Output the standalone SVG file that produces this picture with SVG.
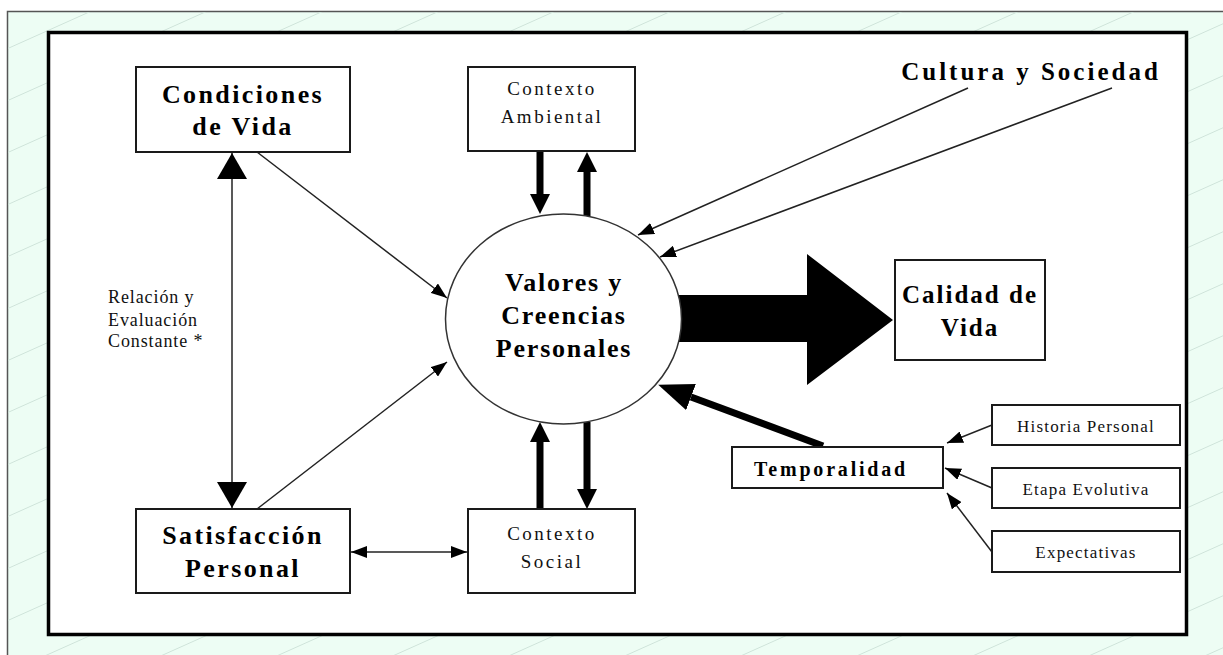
<svg xmlns="http://www.w3.org/2000/svg" width="1223" height="655" viewBox="0 0 1223 655">
  <style>
    .box { fill: #ffffff; stroke: #1a1a1a; stroke-width: 2; }
    .title { font-family: "Liberation Serif", "Times New Roman", serif; font-weight: bold; font-size: 26px; letter-spacing: 2.4px; fill: #000; text-anchor: middle; }
    .plain { font-family: "Liberation Serif", "Times New Roman", serif; font-size: 19px; letter-spacing: 2.5px; fill: #111; text-anchor: middle; }
    .small { font-family: "Liberation Serif", "Times New Roman", serif; font-size: 17px; letter-spacing: 1.2px; fill: #111; text-anchor: middle; }
    .note { font-family: "Liberation Serif", "Times New Roman", serif; font-size: 18px; letter-spacing: 0.9px; fill: #111; }
    .thin { fill: none; stroke: #222; stroke-width: 1.5; }
    .thick { fill: none; stroke: #000; stroke-width: 7; }
  </style>
  <defs>
    <pattern id="diag" patternUnits="userSpaceOnUse" width="116" height="52">
      <line x1="0" y1="52" x2="116" y2="0" stroke="#cfe3da" stroke-width="1"/>
    </pattern>
    <marker id="tip" markerUnits="userSpaceOnUse" markerWidth="16" markerHeight="12" refX="16" refY="6" orient="auto-start-reverse">
      <path d="M0,0 L16,6 L0,12 z" fill="#000"/>
    </marker>
    <marker id="tipBig" markerUnits="userSpaceOnUse" markerWidth="26" markerHeight="30" refX="26" refY="15" orient="auto-start-reverse">
      <path d="M0,0 L26,15 L0,30 z" fill="#000"/>
    </marker>
    <marker id="tipBlock" markerUnits="userSpaceOnUse" markerWidth="20" markerHeight="20" refX="0" refY="10" orient="auto">
      <path d="M0,0 L20,10 L0,20 z" fill="#000"/>
    </marker>
    <marker id="tipHeavy" markerUnits="userSpaceOnUse" markerWidth="35" markerHeight="28" refX="0" refY="14" orient="auto">
      <path d="M0,0 L35,14 L0,28 z" fill="#000"/>
    </marker>
  </defs>

  <!-- page background and frames -->
  <rect x="0" y="0" width="1223" height="655" fill="#ffffff"/>
  <rect x="7.5" y="11.5" width="1230" height="660" fill="#edfdf4" stroke="#555" stroke-width="1.5"/>
  <rect x="8" y="12" width="1215" height="643" fill="url(#diag)"/>
  <rect x="48.5" y="32.5" width="1138" height="602" fill="#ffffff" stroke="#000" stroke-width="3.5"/>

  <!-- connectors -->
  <g id="connectors">
    <!-- wide arrow towards Calidad de Vida -->
    <polygon points="670,295 807,295 807,254 893,320 807,385 807,342 670,342" fill="#000"/>
    <!-- Condiciones de Vida <-> Satisfaccion Personal -->
    <line class="thin" x1="232" y1="153" x2="232" y2="508" stroke-width="2" marker-start="url(#tipBig)" marker-end="url(#tipBig)"/>
    <!-- Condiciones de Vida -> valores -->
    <line class="thin" x1="257" y1="152" x2="447" y2="298" marker-end="url(#tip)"/>
    <!-- Satisfaccion Personal -> valores -->
    <line class="thin" x1="257" y1="509" x2="447" y2="362" marker-end="url(#tip)"/>
    <!-- Satisfaccion Personal <-> Contexto Social -->
    <line class="thin" x1="351" y1="552" x2="467" y2="552" marker-start="url(#tip)" marker-end="url(#tip)"/>
    <!-- Contexto Ambiental <-> valores -->
    <line class="thick" x1="540" y1="152" x2="540" y2="194" marker-end="url(#tipBlock)"/>
    <line class="thick" x1="587" y1="216" x2="587" y2="172" marker-end="url(#tipBlock)"/>
    <!-- Contexto Social <-> valores -->
    <line class="thick" x1="540" y1="508" x2="540" y2="442" marker-end="url(#tipBlock)"/>
    <line class="thick" x1="587" y1="422" x2="587" y2="489" marker-end="url(#tipBlock)"/>
    <!-- Cultura y Sociedad -> valores -->
    <line class="thin" x1="968" y1="88" x2="638" y2="235" marker-end="url(#tip)"/>
    <line class="thin" x1="1112" y1="88" x2="660" y2="257" marker-end="url(#tip)"/>
    <!-- Temporalidad -> valores -->
    <line class="thick" x1="823" y1="446" x2="691" y2="397" marker-end="url(#tipHeavy)"/>
    <!-- factors -> Temporalidad -->
    <line class="thin" x1="992" y1="425" x2="947" y2="443" marker-end="url(#tip)"/>
    <line class="thin" x1="992" y1="488" x2="945" y2="468" marker-end="url(#tip)"/>
    <line class="thin" x1="992" y1="552" x2="947" y2="493" marker-end="url(#tip)"/>
  </g>

  <g id="condiciones-vida">
    <rect class="box" x="136" y="67" width="214" height="85"/>
    <text class="title" x="243" y="103">Condiciones</text>
    <text class="title" x="243" y="135">de Vida</text>
  </g>

  <g id="contexto-ambiental">
    <rect class="box" x="468" y="67" width="167" height="84"/>
    <text class="plain" x="552" y="95">Contexto</text>
    <text class="plain" x="552" y="123">Ambiental</text>
  </g>

  <g id="cultura-sociedad">
    <text class="title" x="1031" y="80" style="font-size:25px;letter-spacing:3px">Cultura y Sociedad</text>
  </g>

  <g id="valores-creencias">
    <ellipse cx="563.5" cy="319" rx="118" ry="105" fill="#ffffff" stroke="#333" stroke-width="1.5"/>
    <text class="title" x="564" y="291" style="letter-spacing:1.8px">Valores y</text>
    <text class="title" x="564" y="324" style="letter-spacing:1.8px">Creencias</text>
    <text class="title" x="564" y="357" style="letter-spacing:1.8px">Personales</text>
  </g>

  <g id="calidad-vida">
    <rect class="box" x="895" y="260" width="150" height="100"/>
    <text class="title" x="970" y="303" style="font-size:25px;letter-spacing:2px">Calidad de</text>
    <text class="title" x="970" y="336" style="font-size:25px;letter-spacing:2px">Vida</text>
  </g>

  <g id="relacion-evaluacion">
    <text class="note" x="108" y="303">Relación y</text>
    <text class="note" x="108" y="326">Evaluación</text>
    <text class="note" x="108" y="347">Constante *</text>
  </g>

  <g id="satisfaccion-personal">
    <rect class="box" x="136" y="509" width="214" height="84"/>
    <text class="title" x="243" y="544">Satisfacción</text>
    <text class="title" x="243" y="577">Personal</text>
  </g>

  <g id="contexto-social">
    <rect class="box" x="468" y="509" width="167" height="84"/>
    <text class="plain" x="552" y="540">Contexto</text>
    <text class="plain" x="552" y="568">Social</text>
  </g>

  <g id="temporalidad">
    <rect class="box" x="732" y="447" width="211" height="41"/>
    <text class="title" x="831" y="476" style="font-size:20px;letter-spacing:2.8px">Temporalidad</text>
  </g>

  <g id="historia-personal">
    <rect class="box" x="992" y="405" width="188" height="40"/>
    <text class="small" x="1086" y="432">Historia Personal</text>
  </g>

  <g id="etapa-evolutiva">
    <rect class="box" x="992" y="468" width="188" height="40"/>
    <text class="small" x="1086" y="495">Etapa Evolutiva</text>
  </g>

  <g id="expectativas">
    <rect class="box" x="992" y="531" width="188" height="41"/>
    <text class="small" x="1086" y="558">Expectativas</text>
  </g>
</svg>
